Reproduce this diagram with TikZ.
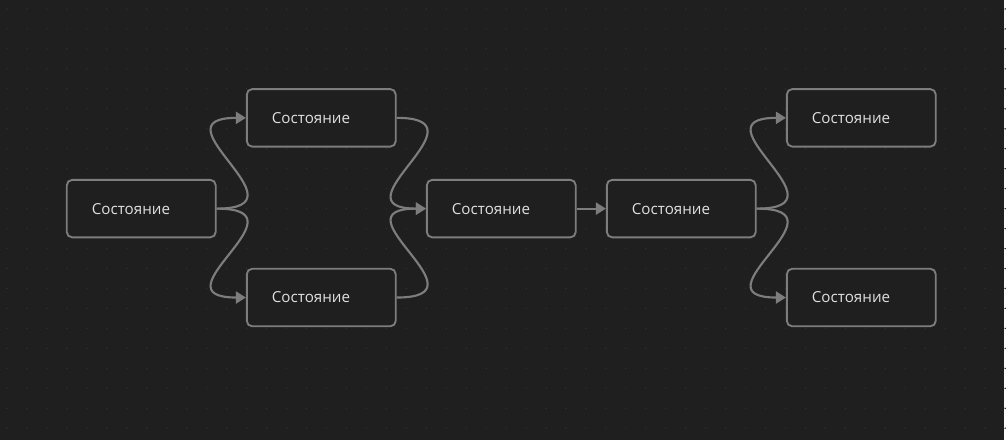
\documentclass[tikz,border=0pt]{standalone}
\usepackage{fontspec}
\setmainfont{Open Sans}
\usepackage{xcolor}
\usetikzlibrary{arrows.meta, positioning}
\definecolor{canvas}{HTML}{1F1F1F}
\definecolor{griddot}{HTML}{303030}
\definecolor{edgegray}{HTML}{7D7D7D}
\definecolor{labeltext}{HTML}{E0E0E0}
\tikzset{
  state/.style={
    rectangle, rounded corners=4pt, draw=edgegray, line width=1.4pt,
    fill=canvas, align=left, text=labeltext, font=\fontsize{11.4}{13}\selectfont,
    text width=74.25pt, inner xsep=18.8pt, inner ysep=0pt,
    minimum height=43.2pt
  },
  link/.style={-{Triangle[length=7.5pt,width=9pt]}, line width=1.6pt, draw=edgegray}
}
\begin{document}
\begin{tikzpicture}[x=0.75pt, y=-0.75pt]

% canvas and dotted grid
\fill[canvas] (0,0) rectangle (1006,441);
\foreach \i in {0,...,50} {
  \foreach \j in {0,...,21} {
    \fill[griddot] (7+20*\i, 9+20*\j) circle (0.8);
  }
}

\node[state] (s1) at (141.5,209) {Состояние};
\node[state, above right=23.6pt and 22pt of s1] (s2) {Состояние};
\node[state, below right=22.2pt and 22pt of s1] (s3) {Состояние};
\node[state, below right=23.6pt and 22pt of s2] (s4) {Состояние};
\node[state, right=22pt of s4] (s5) {Состояние};
\node[state, above right=23.6pt and 22pt of s5] (s6) {Состояние};
\node[state, below right=22.2pt and 22pt of s5] (s7) {Состояние};

% forks and joins
\draw[link] (s1.east) .. controls +(71pt,0) and +(-71pt,0) .. (s2.west);
\draw[link] (s1.east) .. controls +(71pt,0) and +(-71pt,0) .. (s3.west);
\draw[link] (s2.east) .. controls +(71pt,0) and +(-71pt,0) .. (s4.west);
\draw[link] (s3.east) .. controls +(71pt,0) and +(-71pt,0) .. (s4.west);
\draw[link] (s4) -- (s5);
\draw[link] (s5.east) .. controls +(71pt,0) and +(-71pt,0) .. (s6.west);
\draw[link] (s5.east) .. controls +(71pt,0) and +(-71pt,0) .. (s7.west);

\end{tikzpicture}
\end{document}
